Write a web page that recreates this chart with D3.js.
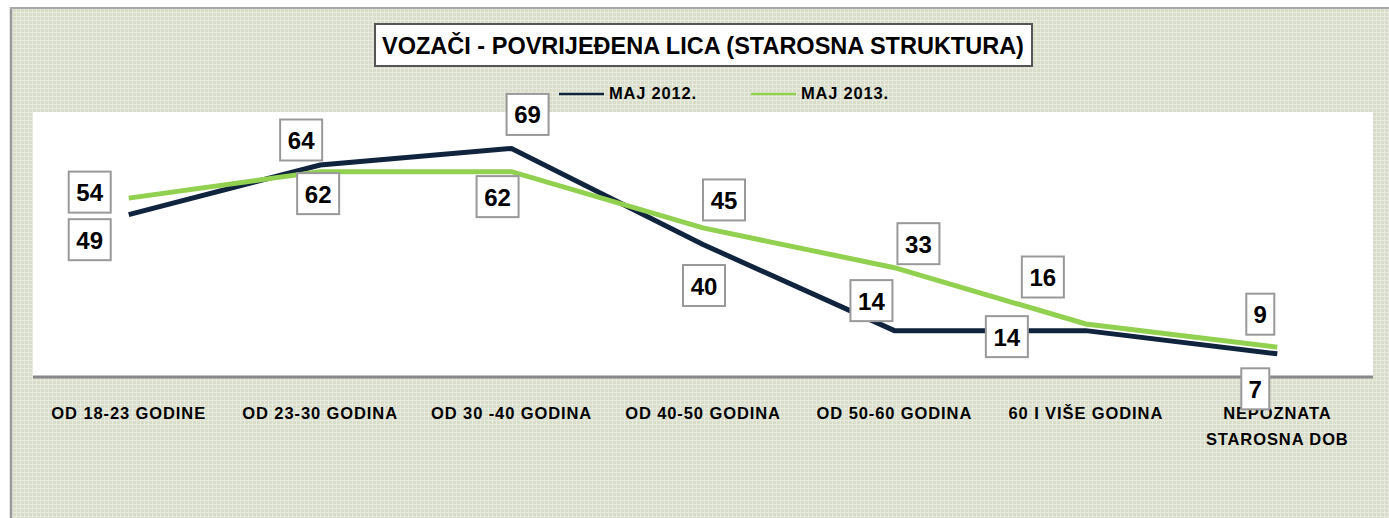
<!DOCTYPE html>
<html>
<head>
<meta charset="utf-8">
<script src="https://cdn.jsdelivr.net/npm/d3@7"></script>
<style>
  body { margin: 0; background: #fff; }
  text { font-family: "Liberation Sans", Arial, sans-serif; font-weight: bold; fill: #000; }
</style>
</head>
<body>
<div id="chart"></div>
<script>
// chart data
var categories = ["OD 18-23 GODINE", "OD 23-30 GODINA", "OD 30 -40 GODINA", "OD 40-50 GODINA",
                  "OD 50-60 GODINA", "60 I VIŠE GODINA", "NEPOZNATA|STAROSNA DOB"];
var maj2012 = [49, 64, 69, 40, 14, 14, 7];
var maj2013 = [54, 62, 62, 45, 33, 16, 9];
var seriesNames = ["MAJ 2012.", "MAJ 2013."];
var title = "VOZAČI - POVRIJEĐENA LICA (STAROSNA STRUKTURA)";

// label box offsets from the point (layout only)
var off2012 = [[-39, 25], [-19, -25], [16, -34], [1, 41], [-23, -30], [-79, 6], [-22, 35]];
var off2013 = [[-39, -6], [-2, 22], [-14, 25], [21, -28], [24, -24], [-43, -47], [-17, -33]];

function init() {
    var w = 1389, h = 518;
    var plot = {left: 33, right: 1373, top: 112, bottom: 377};

    var svg = d3.select("#chart").append("svg")
        .attr("width", w).attr("height", h);

    var defs = svg.append("defs");
    var pat = defs.append("pattern")
        .attr("id", "grid").attr("width", 4).attr("height", 4)
        .attr("patternUnits", "userSpaceOnUse");
    pat.append("rect").attr("width", 4).attr("height", 4).attr("fill", "#d8ddca");
    pat.append("rect").attr("width", 4).attr("height", 1).attr("fill", "#e8eadf");
    pat.append("rect").attr("width", 1).attr("height", 4).attr("fill", "#e8eadf");

    // frame
    svg.append("rect").attr("width", w).attr("height", h).attr("fill", "#fff");
    svg.append("rect").attr("x", 11).attr("y", 8).attr("width", w - 11).attr("height", h - 8)
        .attr("fill", "url(#grid)");
    svg.append("line").attr("x1", 11).attr("x2", 11).attr("y1", 7).attr("y2", h)
        .attr("stroke", "#999").attr("stroke-width", 2.5);
    svg.append("line").attr("x1", 10).attr("x2", w).attr("y1", 8).attr("y2", 8)
        .attr("stroke", "#aaa").attr("stroke-width", 2);

    // plot area
    svg.append("rect").attr("x", plot.left).attr("y", plot.top)
        .attr("width", plot.right - plot.left).attr("height", plot.bottom - plot.top)
        .attr("fill", "#fff");

    var x = d3.scaleBand().domain(categories).range([plot.left, plot.right]);
    var y = d3.scaleLinear().domain([0, 80]).range([plot.bottom, plot.top]);
    var cx = function(i) { return x(categories[i]) + x.bandwidth() / 2; };

    // axis
    var xAxis = svg.append("g")
        .attr("transform", "translate(0," + plot.bottom + ")")
        .call(d3.axisBottom(x).tickSize(0).tickFormat(""));
    xAxis.select(".domain").attr("stroke", "#888").attr("stroke-width", 3)
        .attr("d", "M" + plot.left + ",0H" + plot.right);

    xAxis.selectAll(".tick").each(function(d) {
        var t = d3.select(this).append("text")
            .attr("text-anchor", "middle")
            .style("font-size", "16.5px")
            .style("letter-spacing", "0.9px");
        d.split("|").forEach(function(line, k) {
            t.append("tspan").attr("x", 0).attr("y", 42 + k * 26).text(line);
        });
    });

    // lines (green on top)
    var line = d3.line().x(function(d, i) { return cx(i); }).y(function(d) { return y(d); });
    svg.append("path").datum(maj2012).attr("d", line)
        .attr("fill", "none").attr("stroke", "#10243e").attr("stroke-width", 5);
    svg.append("path").datum(maj2013).attr("d", line)
        .attr("fill", "none").attr("stroke", "#92d050").attr("stroke-width", 5);

    // data labels
    function labels(data, offs) {
        var g = svg.append("g");
        data.forEach(function(v, i) {
            var bx = cx(i) + offs[i][0], by = y(v) + offs[i][1];
            var bw = String(v).length > 1 ? 42 : 28;
            g.append("rect").attr("x", bx - bw / 2).attr("y", by - 20.5)
                .attr("width", bw).attr("height", 41)
                .attr("fill", "#fff").attr("stroke", "#999").attr("stroke-width", 2);
            g.append("text").attr("x", bx).attr("y", by + 9)
                .attr("text-anchor", "middle").style("font-size", "24px").text(v);
        });
    }
    labels(maj2012, off2012);
    labels(maj2013, off2013);

    // title
    svg.append("rect").attr("x", 375).attr("y", 24).attr("width", 657).attr("height", 42)
        .attr("fill", "#fff").attr("stroke", "#555").attr("stroke-width", 2);
    svg.append("text").attr("x", 703).attr("y", 54).attr("text-anchor", "middle")
        .style("font-size", "23.5px").text(title);

    // legend
    var legColors = ["#10243e", "#92d050"];
    var legX = [559, 751];
    seriesNames.forEach(function(n, i) {
        svg.append("line").attr("x1", legX[i]).attr("x2", legX[i] + 45)
            .attr("y1", 94).attr("y2", 94)
            .attr("stroke", legColors[i]).attr("stroke-width", 2.5);
        svg.append("text").attr("x", legX[i] + 50).attr("y", 99)
            .style("font-size", "16.5px").style("letter-spacing", "0.8px").text(n);
    });
}

window.onload = init;
</script>
</body>
</html>
